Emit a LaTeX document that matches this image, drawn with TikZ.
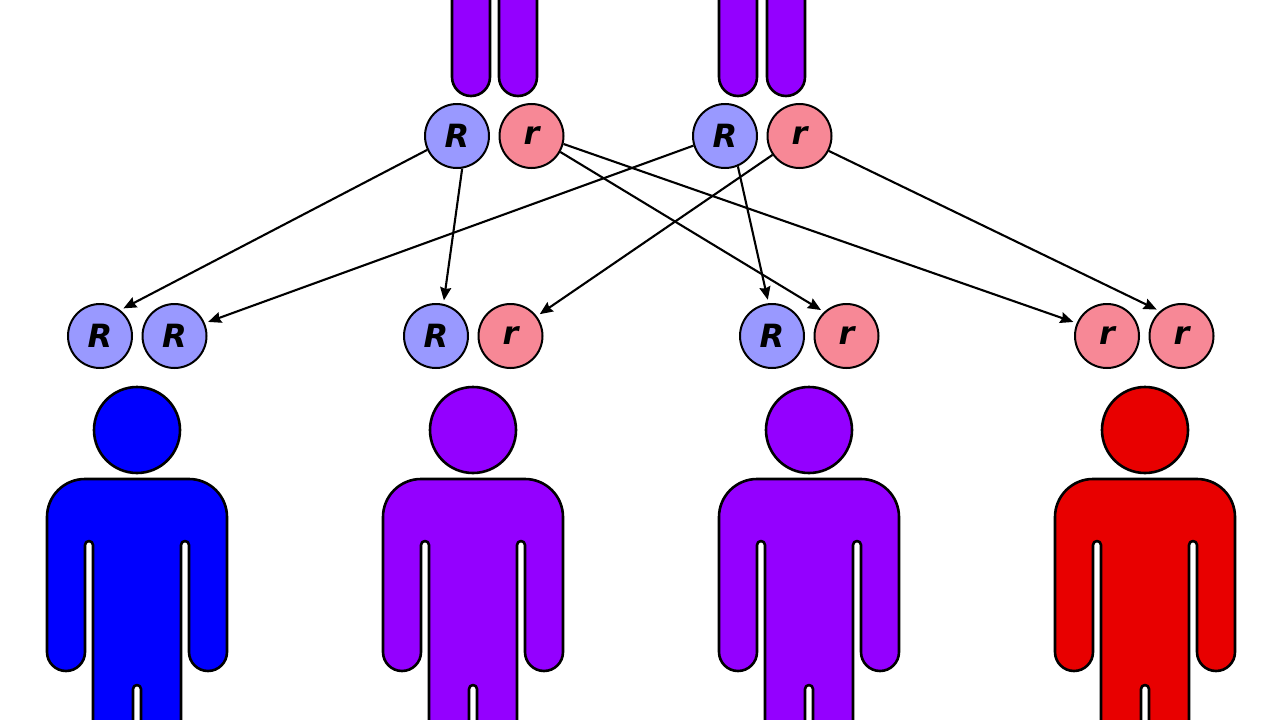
\documentclass[tikz,border=0pt]{standalone}
\usepackage{fontspec}
\setsansfont{DejaVu Sans}
\usepackage{xcolor}
\usetikzlibrary{arrows.meta,positioning}
\definecolor{dominant}{HTML}{0000FF}
\definecolor{carrier}{HTML}{9400FF}
\definecolor{recessive}{HTML}{E80000}
\definecolor{lightblue}{HTML}{9999FF}
\definecolor{lightred}{HTML}{F78896}

\begin{document}
\begin{tikzpicture}[
  x=1pt,y=-1pt,
  node distance=8.5pt,
  allele/.style={circle,draw,line width=2pt,minimum size=64pt,inner sep=0pt,
    font=\sffamily\bfseries\itshape\fontsize{32}{32}\selectfont},
  big/.style={allele,fill=lightblue},
  small/.style={allele,fill=lightred},
  outline/.style={draw,line width=2.6pt,line join=round},
  arr/.style={-{Stealth[length=13pt,width=11pt,inset=1.5pt]},line width=2.1pt,shorten >=3.5pt},
  person/.pic={
    \draw[outline,fill=#1] (0,430) circle[radius=43];
    \draw[outline,fill=#1] (-44,745) -- (-44,545) arc(0:-180:4) -- (-52,652)
      arc(0:180:19) -- (-90,517) arc(180:270:38) -- (52,479) arc(270:360:38)
      -- (90,652) arc(0:180:19) -- (52,545) arc(0:-180:4) -- (44,745)
      -- (4,745) -- (4,689) arc(0:-180:4) -- (-4,745) -- cycle;
  },
  chromosome/.pic={
    \draw[outline,fill=carrier] (-19,-10) -- (-19,77) arc(180:0:19) -- (19,-10) -- cycle;
  }
]
\clip (0,0) rectangle (1280,720);
\fill[white] (0,0) rectangle (1280,720);

\foreach \x in {471,518,738,786}
  \pic at (\x,0) {chromosome};

\node[big] (parentA) at (457,136) {R};
\node[small,right=of parentA] (parenta) {r};
\node[big] (parentB) at (725,136) {R};
\node[small,right=of parentB] (parentb) {r};

\node[big] (childA) at (100,336) {R};
\node[big,right=of childA] (childAb) {R};
\node[big] (childB) at (436,336) {R};
\node[small,right=of childB] (childBb) {r};
\node[big] (childC) at (772,336) {R};
\node[small,right=of childC] (childCb) {r};
\node[small] (childD) at (1107,336) {r};
\node[small,right=of childD] (childDb) {r};

\pic at (137,0) {person=dominant};
\pic at (473,0) {person=carrier};
\pic at (809,0) {person=carrier};
\pic at (1145,0) {person=recessive};

\draw[arr] (parentA.205)--(childA.52);
\draw[arr] (parentB.197)--(childAb.23);
\draw[arr] (parentA.279)--(childB.77);
\draw[arr] (parentb.215)--(childBb.37);
\draw[arr] (parentB.293)--(childC.96);
\draw[arr] (parenta.331)--(childCb.133);
\draw[arr] (parenta.346)--(childD.157);
\draw[arr] (parentb.333)--(childDb.131);
\end{tikzpicture}
\end{document}
